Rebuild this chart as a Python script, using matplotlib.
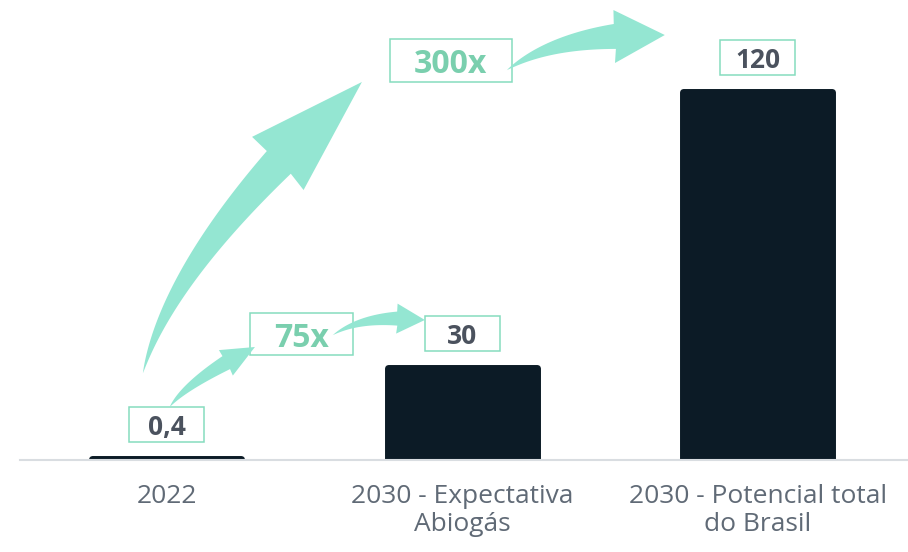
import numpy as np
import matplotlib
matplotlib.use("Agg")
import matplotlib.pyplot as plt
from matplotlib.patches import Rectangle, Polygon

plt.rcParams['font.family'] = ['Open Sans', 'DejaVu Sans']

# data
categories = ["2022", "2030 - Expectativa\nAbiogás", "2030 - Potencial total\ndo Brasil"]
values = [0.4, 30, 120]
value_labels = ["0,4", "30", "120"]
multipliers = ["75x", "300x"]

BAR = "#0c1b26"
MINT = "#94e6d2"
BOX_EDGE = "#86dcbf"
MULT_TXT = "#7acfae"
VAL_TXT = "#4b525e"
TICK_TXT = "#606a76"

fig = plt.figure(figsize=(9.08, 5.52), dpi=100)
ax = fig.add_axes([20 / 908, 1 - 460 / 552, 888 / 908, 460 / 552])

x = np.arange(len(categories))
ax.bar(x, values, width=0.504, color=BAR, edgecolor=BAR, linewidth=5,
       joinstyle='round', zorder=1)

ax.set_xlim(-0.497, 2.508)
ax.set_ylim(0, 149.8)

for s in ['top', 'left', 'right']:
    ax.spines[s].set_visible(False)
ax.spines['bottom'].set_color('#d9dde1')
ax.spines['bottom'].set_linewidth(1.5)
ax.spines['bottom'].set_zorder(3)
ax.set_yticks([])
ax.set_xticks(x)
ax.set_xticklabels(categories, fontsize=19, color=TICK_TXT, linespacing=1.18,
                   multialignment='center')
ax.tick_params(axis='x', length=0, pad=17)

# pixel scales of the axes
sx = 295.5  # px per category unit
sy = 3.07   # px per value unit


def label_box(cx, cy, w_px, h_px, text, color, size):
    ax.add_patch(Rectangle((cx - w_px / sx / 2, cy - h_px / sy / 2), w_px / sx, h_px / sy,
                           facecolor='none', edgecolor=BOX_EDGE, linewidth=1.1, zorder=4))
    ax.text(cx, cy, text, ha='center', va='center_baseline', fontsize=size,
            fontweight='bold', color=color, zorder=5)


# value labels above bars
for xi, v, lab in zip(x, values, value_labels):
    label_box(xi, v + 5.4 + 17.5 / sy, 75, 35, lab, VAL_TXT, 19)

# multiplier labels
label_box(0.457, 41.0, 103, 42, multipliers[0], MULT_TXT, 23)
label_box(0.961, 130.0, 122, 43, multipliers[1], MULT_TXT, 23)


def curved_arrow(p0, c, p2, tail_w, head_w, head_l):
    # quadratic curve in display space, tail tapering from a point
    pts = ax.transData.transform(np.array([p0, c, p2]))
    t = np.linspace(0, 1, 300)[:, None]
    curve = (1 - t) ** 2 * pts[0] + 2 * (1 - t) * t * pts[1] + t ** 2 * pts[2]
    tip = curve[-1]
    d = np.hypot(*(curve - tip).T)
    k = np.where(d >= head_l)[0][-1]
    tail = curve[:k + 2]
    seg = np.gradient(tail, axis=0)
    nrm = np.stack([-seg[:, 1], seg[:, 0]], axis=1)
    nrm /= np.hypot(*nrm.T)[:, None]
    w = np.linspace(0, 1, len(tail)) ** 0.9 * tail_w / 2
    left = tail + nrm * w[:, None]
    right = tail - nrm * w[:, None]
    base = curve[k]
    direc = (tip - base) / np.hypot(*(tip - base))
    n = np.array([-direc[1], direc[0]])
    head = [base + n * head_w / 2, tip, base - n * head_w / 2]
    poly = np.vstack([left, head, right[::-1]])
    ax.add_patch(Polygon(ax.transData.inverted().transform(poly), closed=True,
                         facecolor=MINT, edgecolor='none', zorder=6))


curved_arrow((-0.081, 28.3), (0.027, 68.4), (0.660, 123.1), 33, 74, 117)
curved_arrow((0.010, 17.3), (0.068, 25.4), (0.298, 36.8), 15, 29, 33)
curved_arrow((0.562, 40.7), (0.670, 47.6), (0.873, 45.6), 14, 30, 28)
curved_arrow((1.151, 127.0), (1.330, 139.1), (1.685, 138.4), 25, 53, 50)

fig.savefig("out.png", dpi=100)
